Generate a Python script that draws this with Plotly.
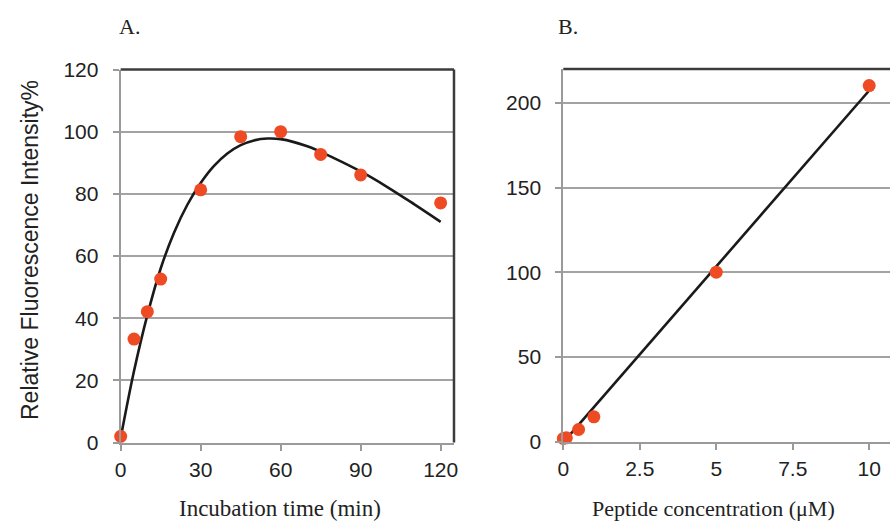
import plotly.graph_objects as go

# Panel A data
time_pts = [0, 5, 10, 15, 30, 45, 60, 75, 90, 120]
intensity_pts = [2, 33.3, 42.1, 52.6, 81.3, 98.4, 100, 92.7, 86.1, 77.1]
fit_time = [0, 5, 10, 15, 20, 25, 30, 35, 40, 45, 50, 55, 60, 70, 80, 90, 100, 110, 120]
fit_intensity = [1.5, 23, 41, 56, 67.5, 76.5, 83.5, 89, 93, 95.7, 97.2, 97.8, 97.6, 95.3, 91.5, 87.2, 82.2, 76.7, 71.0]

# Panel B data
conc_pts = [0, 0.1, 0.5, 1, 5, 10]
signal_pts = [1.8, 2.2, 7.1, 14.6, 100, 210.2]
fit_conc = [0.05, 10]
fit_signal = [0.5, 207.3]

x_ticks_a = [0, 30, 60, 90, 120]
y_ticks_a = [0, 20, 40, 60, 80, 100, 120]
x_ticks_b = [0, 2.5, 5, 7.5, 10]
x_ticklabels_b = ["0", "2.5", "5", "7.5", "10"]
y_ticks_b = [0, 50, 100, 150, 200]

MARK = "#EE4B24"
GRID = "#A3A3A3"
AXIS = "#9A9A9A"
DARK = "#3C3C3C"
TXT = "#222"
SANS = "Liberation Sans, Arial, sans-serif"
SERIF = "Liberation Serif, Times New Roman, serif"

fig = go.Figure()

fig.add_trace(go.Scatter(x=fit_time, y=fit_intensity, mode="lines",
                         line=dict(color="#1A1A1A", width=2.6, shape="spline", smoothing=1.0),
                         xaxis="x", yaxis="y", showlegend=False, hoverinfo="skip"))
fig.add_trace(go.Scatter(x=time_pts, y=intensity_pts, mode="markers", marker=dict(color=MARK, size=13),
                         xaxis="x", yaxis="y", showlegend=False, cliponaxis=False))

fig.add_trace(go.Scatter(x=fit_conc, y=fit_signal, mode="lines", line=dict(color="#1A1A1A", width=2.6),
                         xaxis="x2", yaxis="y2", showlegend=False, hoverinfo="skip"))
fig.add_trace(go.Scatter(x=conc_pts, y=signal_pts, mode="markers", marker=dict(color=MARK, size=13),
                         xaxis="x2", yaxis="y2", showlegend=False, cliponaxis=False))

common_x = dict(showgrid=False, zeroline=False, showline=True, linecolor=AXIS, linewidth=2,
                ticks="outside", ticklen=6, tickwidth=1.5, tickcolor=AXIS,
                tickfont=dict(family=SANS, size=21, color=TXT), ticklabelstandoff=1, automargin=False)
common_y = dict(showgrid=True, gridcolor=GRID, gridwidth=1.8, zeroline=False, showline=True, linecolor=AXIS, linewidth=2,
                ticks="outside", ticklen=6, tickwidth=1.5, tickcolor=AXIS,
                tickfont=dict(family=SANS, size=21, color=TXT), ticklabelstandoff=10, automargin=False)

fig.update_layout(
    width=890, height=525,
    margin=dict(l=0, r=0, t=0, b=0),
    paper_bgcolor="white", plot_bgcolor="white",
    xaxis=dict(common_x, domain=[0.1356, 0.5101], range=[0, 125], tickvals=x_ticks_a),
    yaxis=dict(common_y, domain=[0.157, 0.8676], range=[0, 120], tickvals=y_ticks_a),
    xaxis2=dict(common_x, domain=[0.6329, 1.0], range=[0, 10.68], tickvals=x_ticks_b, ticktext=x_ticklabels_b, anchor="y2"),
    yaxis2=dict(common_y, domain=[0.159, 0.8686], range=[0, 220], tickvals=y_ticks_b, anchor="x2"),
)

def px_ann(text, x, y, font, **kw):
    fig.add_annotation(text=text, x=x / 890, y=1 - y / 525, xref="paper", yref="paper",
                       showarrow=False, font=font, **kw)

serif_font = dict(family=SERIF, size=22, color=TXT)
px_ann("A.", 117, 27, serif_font, xanchor="left", yanchor="middle")
px_ann("B.", 556, 27, serif_font, xanchor="left", yanchor="middle")
px_ann("Incubation time (min)", 280, 508, dict(family=SERIF, size=23, color=TXT), xanchor="center", yanchor="middle")
px_ann("Peptide concentration (μM)", 713, 508, dict(family=SERIF, size=22, color=TXT), xanchor="center", yanchor="middle")
px_ann("Relative Fluorescence Intensity%", 30, 250, dict(family=SANS, size=23, color=TXT),
       xanchor="center", yanchor="middle", textangle=-90)

# dark top/right frame lines
fig.add_shape(type="line", xref="x domain", yref="y domain", x0=0, x1=1, y0=1, y1=1, line=dict(color=DARK, width=2.5))
fig.add_shape(type="line", xref="x domain", yref="y domain", x0=1, x1=1, y0=0, y1=1, line=dict(color=DARK, width=2.5))
fig.add_shape(type="line", xref="x2 domain", yref="y2 domain", x0=0, x1=1, y0=1, y1=1, line=dict(color=DARK, width=2.5))

fig.write_html("out.html", config={"displayModeBar": False},
               post_script="document.body.style.margin='0';document.body.style.overflow='hidden';")
